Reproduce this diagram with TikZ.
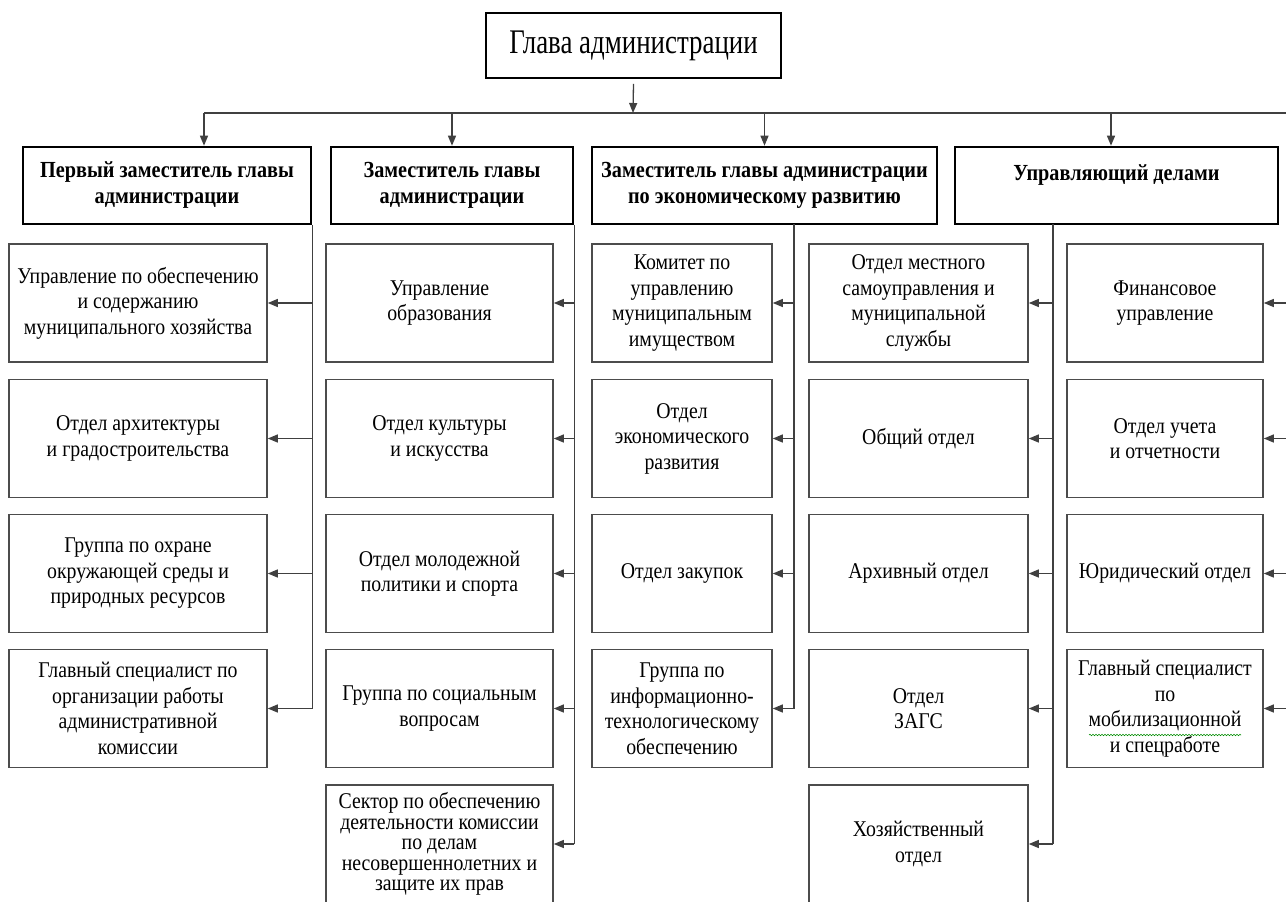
\documentclass[tikz,border=0pt]{standalone}
\usepackage{fontspec}
\setmainfont[FakeStretch=0.88]{Liberation Serif}
\newfontfamily\titlefont[FakeStretch=0.78]{Liberation Serif}
\usetikzlibrary{arrows.meta,decorations.pathmorphing}
\begin{document}
\begin{tikzpicture}[x=1pt,y=-1pt,
  sub/.style={draw=black!70, line width=1.6pt, minimum width=#1, minimum height=118pt,
    inner sep=1pt, align=center, font=\fontsize{22.5}{25.5}\selectfont, text=black},
  head/.style={draw=black, line width=2.6pt, minimum width=#1, minimum height=77pt,
    inner sep=2pt, align=center, font=\bfseries\fontsize{23}{26}\selectfont},
  conn/.style={draw=black!75, line width=1.3pt},
  arr/.style={conn, -{Triangle[length=10pt,width=8pt]}}]
\fill[white] (0,0) rectangle (1286,902);
\useasboundingbox (0,0) rectangle (1286,902);

% top
\node[draw=black, line width=1.6pt, minimum width=295pt, minimum height=65pt, inner sep=2pt,
  font=\titlefont\fontsize{34.5}{36}\selectfont] (glava) at (633.5,45.5) {Глава администрации\hspace{10pt}};

% heads
\node[head=288pt] (h1) at (167,185.5) {Первый заместитель главы\\администрации};
\node[head=242pt] (h2) at (452,185.5) {Заместитель главы\\администрации};
\node[head=345pt] (h3) at (764.5,185.5) {Заместитель главы администрации\\по экономическому развитию};
\node[head=323pt] (h4) at (1116.5,185.5) {Управляющий делами\\\phantom{x}};

% column 1
\node[sub=258pt] (a1) at (138,303) {Управление по обеспечению\\и содержанию\\муниципального хозяйства};
\node[sub=258pt] (a2) at (138,438.5) {Отдел архитектуры\\и градостроительства};
\node[sub=258pt] (a3) at (138,573.5) {Группа по охране\\окружающей среды и\\природных ресурсов};
\node[sub=258pt] (a4) at (138,708.5) {Главный специалист по\\организации работы\\административной\\комиссии};

% column 2
\node[sub=227pt] (b1) at (439.5,303) {Управление\\образования};
\node[sub=227pt] (b2) at (439.5,438.5) {Отдел культуры\\и искусства};
\node[sub=227pt] (b3) at (439.5,573.5) {Отдел молодежной\\политики и спорта};
\node[sub=227pt] (b4) at (439.5,708.5) {Группа по социальным\\вопросам};
\node[sub=227pt, font=\fontsize{22.5}{20.5}\selectfont] (b5) at (439.5,844) {Сектор по обеспечению\\деятельности комиссии\\по делам\\несовершеннолетних и\\защите их прав};

% column 3
\node[sub=180pt] (c1) at (682,303) {Комитет по\\управлению\\муниципальным\\имуществом};
\node[sub=180pt] (c2) at (682,438.5) {Отдел\\экономического\\развития};
\node[sub=180pt] (c3) at (682,573.5) {Отдел закупок};
\node[sub=180pt] (c4) at (682,708.5) {Группа по\\информационно-\\технологическому\\обеспечению};

% column 4
\node[sub=219pt] (d1) at (918.5,303) {Отдел местного\\самоуправления и\\муниципальной\\службы};
\node[sub=219pt] (d2) at (918.5,438.5) {Общий отдел};
\node[sub=219pt] (d3) at (918.5,573.5) {Архивный отдел};
\node[sub=219pt] (d4) at (918.5,708.5) {Отдел\\ЗАГС};
\node[sub=219pt] (d5) at (918.5,844) {Хозяйственный\\отдел};

% column 5
\node[sub=196pt] (f1) at (1165,303) {Финансовое\\управление};
\node[sub=196pt] (f2) at (1165,438.5) {Отдел учета\\и отчетности};
\node[sub=196pt] (f3) at (1165,573.5) {Юридический отдел};
\node[sub=196pt] (f4) at (1165,708.5) {Главный специалист\\по\\мобилизационной\\и спецработе};
\draw[green!55!black, line width=0.6pt, decorate, decoration={snake, amplitude=0.7pt, segment length=3pt}]
  (1089,735) -- (1241,735);

% bus
\coordinate (bus) at (633,113);
\coordinate (busL) at (204,113);
\coordinate (busR) at (1286,113);
\coordinate (bus4) at (1111,113);
\coordinate (v3) at (794,224);
\coordinate (v4) at (1053,224);

\draw[arr] ([yshift=-5pt]glava.south) -- (bus);
\draw[conn, line width=2.6pt] ([xshift=-12pt]bus) -- ([xshift=12pt]bus);
\draw[conn] (busL) -- (busR);
\draw[arr] (busL) -- (busL |- h1.north);
\draw[arr] (h2.north |- bus) -- (h2.north);
\draw[arr] (h3.north |- bus) -- (h3.north);
\draw[arr] (bus4) -- (bus4 |- h4.north);

% column connectors
\draw[conn] (h1.south east) -- (h1.south east |- a4.east);
\foreach \n in {a1,a2,a3,a4} \draw[arr] (h1.south east |- \n.east) -- (\n.east);
\draw[conn] (h2.south east) -- (h2.south east |- b5.east);
\foreach \n in {b1,b2,b3,b4,b5} \draw[arr] (h2.south east |- \n.east) -- (\n.east);
\draw[conn] (v3) -- (v3 |- c4.east);
\foreach \n in {c1,c2,c3,c4} \draw[arr] (v3 |- \n.east) -- (\n.east);
\draw[conn] (v4) -- (v4 |- d5.east);
\foreach \n in {d1,d2,d3,d4,d5} \draw[arr] (v4 |- \n.east) -- (\n.east);
\foreach \n in {f1,f2,f3,f4} \draw[arr] (busR |- \n.east) -- (\n.east);
\end{tikzpicture}
\end{document}
